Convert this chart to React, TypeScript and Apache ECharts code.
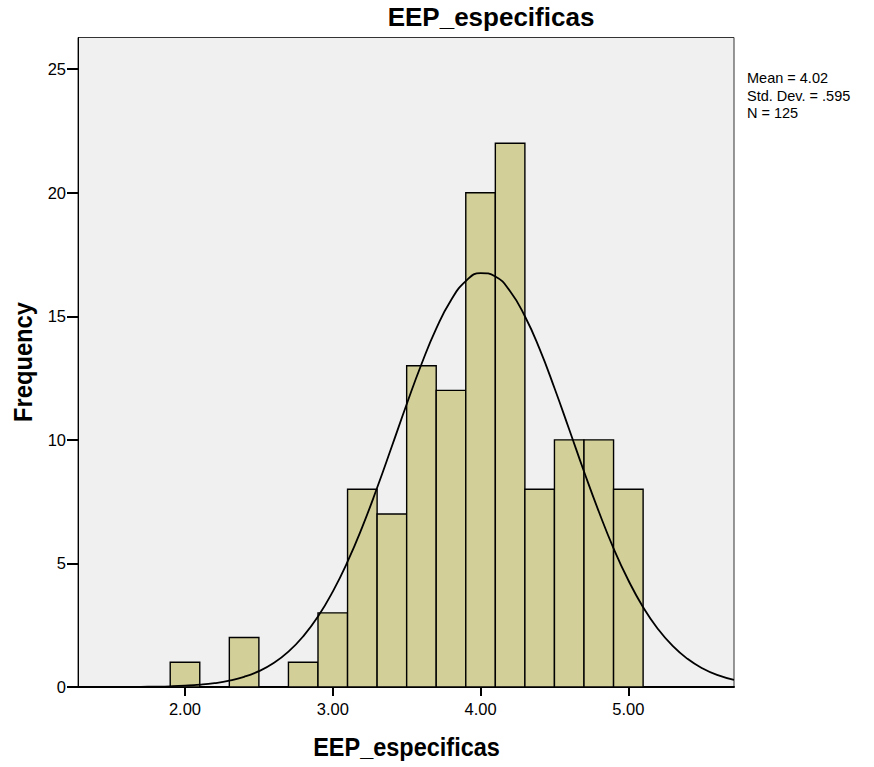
import React, { useEffect, useRef } from "react";
import * as echarts from "echarts";

const binStarts = [1.9, 2.3, 2.7, 2.9, 3.1, 3.3, 3.5, 3.7, 3.9, 4.1, 4.3, 4.5, 4.7, 4.9];
const binEnds = [2.1, 2.5, 2.9, 3.1, 3.3, 3.5, 3.7, 3.9, 4.1, 4.3, 4.5, 4.7, 4.9, 5.1];
const counts = [1, 2, 1, 3, 8, 7, 13, 12, 20, 22, 8, 10, 10, 8];

const curveX = [1.276, 1.4, 1.5, 1.6, 1.7, 1.8, 1.9, 2.0, 2.1, 2.2, 2.3, 2.4, 2.5, 2.6, 2.7, 2.8, 2.9, 3.0, 3.1, 3.2, 3.3, 3.4, 3.5, 3.6, 3.7, 3.8, 3.9, 4.0, 4.1, 4.2, 4.3, 4.4, 4.5, 4.6, 4.7, 4.8, 4.9, 5.0, 5.1, 5.2, 5.3, 5.4, 5.5, 5.6, 5.715];
const curveY = [0.0005, 0.001, 0.002, 0.004, 0.008, 0.016, 0.029, 0.053, 0.092, 0.156, 0.257, 0.411, 0.641, 0.97, 1.43, 2.05, 2.85, 3.86, 5.07, 6.48, 8.06, 9.74, 11.44, 13.06, 14.5, 15.65, 16.42, 16.75, 16.61, 16.01, 15.0, 13.67, 12.1, 10.42, 8.72, 7.1, 5.61, 4.32, 3.23, 2.35, 1.66, 1.14, 0.76, 0.49, 0.29];

const xTicks = [2, 3, 4, 5];
const yTicks = [0, 5, 10, 15, 20, 25];
const statLines = ["Mean = 4.02", "Std. Dev. = .595", "N = 125"];
const titleText = "EEP_especificas";
const xName = "EEP_especificas";
const yName = "Frequency";

const FONT = "Liberation Sans, Arial, sans-serif";

export default function App() {
  const ref = useRef<HTMLDivElement>(null);
  useEffect(() => {
    document.body.style.margin = "0";
    const chart = echarts.init(ref.current!, null, { renderer: "svg" });
    const barData = binStarts.map((s, i) => [s, binEnds[i], counts[i]]);
    const lineData = curveX.map((x, i) => [x, curveY[i]]);
    chart.setOption({
      animation: false,
      textStyle: { fontFamily: FONT },
      grid: {
        left: 78,
        right: 140,
        top: 37.5,
        bottom: 80,
        show: true,
        backgroundColor: "#f0f0f0",
        borderColor: "#333333",
        borderWidth: 1,
      },
      xAxis: {
        type: "value",
        min: 1.276,
        max: 5.715,
        axisLine: { show: true, onZero: false, lineStyle: { color: "#000", width: 2 } },
        axisTick: { show: true, customValues: xTicks, length: 9, lineStyle: { color: "#000", width: 2 } },
        axisLabel: {
          customValues: xTicks,
          formatter: (v: number) => v.toFixed(2),
          color: "#000",
          fontSize: 16.5,
          fontFamily: FONT,
          margin: 13,
        },
        splitLine: { show: false },
      },
      yAxis: {
        type: "value",
        min: 0,
        max: 26.28,
        axisLine: { show: true, lineStyle: { color: "#000", width: 1 } },
        axisTick: { show: true, customValues: yTicks, length: 11, lineStyle: { color: "#000", width: 2 } },
        axisLabel: {
          customValues: yTicks,
          color: "#000",
          fontSize: 16.5,
          fontFamily: FONT,
          margin: 12,
        },
        splitLine: { show: false },
      },
      series: [
        {
          type: "custom",
          data: barData,
          encode: { x: [0, 1], y: 2 },
          renderItem: (params: any, api: any) => {
            const p0 = api.coord([api.value(0), api.value(2)]);
            const p1 = api.coord([api.value(1), 0]);
            return {
              type: "rect",
              shape: { x: p0[0], y: p0[1], width: p1[0] - p0[0], height: p1[1] - p0[1] },
              style: { fill: "#d3cf99", stroke: "#000", lineWidth: 1.4 },
            };
          },
          z: 2,
        },
        {
          type: "line",
          data: lineData,
          smooth: true,
          showSymbol: false,
          symbol: "none",
          lineStyle: { color: "#000", width: 1.8 },
          z: 3,
        },
      ],
      graphic: [
        {
          type: "text",
          x: 491,
          y: 17,
          style: {
            text: titleText,
            font: `bold 26px ${FONT}`,
            fill: "#000",
            textAlign: "center",
            textVerticalAlign: "middle",
          },
        },
        {
          type: "text",
          x: 406.5,
          y: 747,
          scaleX: 0.94,
          style: {
            text: xName,
            font: `bold 25px ${FONT}`,
            fill: "#000",
            textAlign: "center",
            textVerticalAlign: "middle",
          },
        },
        {
          type: "text",
          x: 23,
          y: 362,
          rotation: Math.PI / 2,
          scaleX: 0.95,
          style: {
            text: yName,
            font: `bold 25px ${FONT}`,
            fill: "#000",
            textAlign: "center",
            textVerticalAlign: "middle",
          },
        },
        ...statLines.map((t, i) => ({
          type: "text",
          x: 747,
          y: 78 + i * 17.5,
          style: {
            text: t,
            font: `14.5px ${FONT}`,
            fill: "#000",
            textAlign: "left",
            textVerticalAlign: "middle",
          },
        })),
      ],
    });
    return () => chart.dispose();
  }, []);
  return <div ref={ref} style={{ width: 874, height: 767 }} />;
}
